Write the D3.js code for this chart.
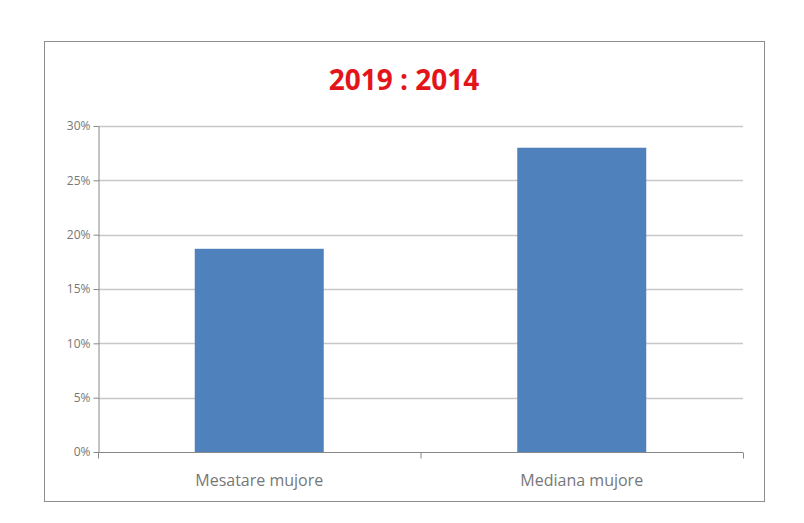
<!DOCTYPE html>
<html>
<head>
<meta charset="utf-8">
<script src="https://cdn.jsdelivr.net/npm/d3@7"></script>
<style>
  body { margin: 0; background: #fff; }
</style>
</head>
<body>
<div id="container"></div>
<script>
// chart data
const categories = ["Mesatare mujore", "Mediana mujore"];
const values = [0.187, 0.28];
const yTicks = [0, 0.05, 0.1, 0.15, 0.2, 0.25, 0.3];
const title = "2019 : 2014";

const width = 804, height = 523;
const plot = { left: 98, right: 743, top: 126, bottom: 452 };

const svg = d3.select("#container").append("svg")
  .attr("width", width).attr("height", height)
  .style("font-family", "'Open Sans', 'DejaVu Sans', sans-serif");

// outer frame
svg.append("rect")
  .attr("x", 44.5).attr("y", 41.5)
  .attr("width", 720).attr("height", 460)
  .attr("fill", "#fff").attr("stroke", "#8c8c8c");

svg.append("text")
  .attr("x", 404).attr("y", 90)
  .attr("text-anchor", "middle")
  .attr("font-size", "28px").attr("font-weight", "bold")
  .attr("fill", "#e3151a")
  .text(title);

const x = d3.scaleBand().domain(categories)
  .range([plot.left, plot.right]).paddingInner(0.6).paddingOuter(0.3);
const xOuter = d3.scaleBand().domain(categories).range([plot.left, plot.right]);
const y = d3.scaleLinear().domain([0, 0.3]).range([plot.bottom, plot.top]);

// gridlines
svg.append("g").selectAll("line").data(yTicks.slice(1)).enter().append("line")
  .attr("x1", plot.left).attr("x2", plot.right)
  .attr("y1", d => Math.round(y(d)) + 0.5).attr("y2", d => Math.round(y(d)) + 0.5)
  .attr("stroke", "#c8c8c8").attr("stroke-width", 1.5);

// y axis
const yAxis = svg.append("g")
  .attr("transform", `translate(${plot.left + 0.5},0)`)
  .call(d3.axisLeft(y).tickValues(yTicks).tickFormat(d3.format(".0%")).tickSize(5).tickSizeOuter(0));
yAxis.select(".domain").attr("stroke", "#888");
yAxis.selectAll(".tick line").attr("stroke", "#888");
yAxis.selectAll("text").attr("fill", "#777").attr("font-size", "12px")
  .attr("font-family", "'Open Sans', sans-serif");

// bars
svg.append("g").selectAll("rect").data(values).enter().append("rect")
  .attr("x", (d, i) => x(categories[i]))
  .attr("y", d => y(d))
  .attr("width", x.bandwidth())
  .attr("height", d => y(0) - y(d))
  .attr("fill", "#4f81bd");

// x axis
const xAxis = svg.append("g")
  .attr("transform", `translate(0,${plot.bottom + 0.5})`);
xAxis.append("line").attr("x1", plot.left).attr("x2", plot.right)
  .attr("stroke", "#888");
[plot.left, plot.left + xOuter.bandwidth(), plot.right].forEach(px => {
  xAxis.append("line").attr("x1", px + 0.5).attr("x2", px + 0.5)
    .attr("y1", 0).attr("y2", 6).attr("stroke", "#888");
});
xAxis.selectAll("text.cat").data(categories).enter().append("text")
  .attr("class", "cat")
  .attr("x", d => xOuter(d) + xOuter.bandwidth() / 2)
  .attr("y", 33)
  .attr("text-anchor", "middle")
  .attr("font-size", "16px").attr("fill", "#777")
  .text(d => d);
</script>
</body>
</html>
